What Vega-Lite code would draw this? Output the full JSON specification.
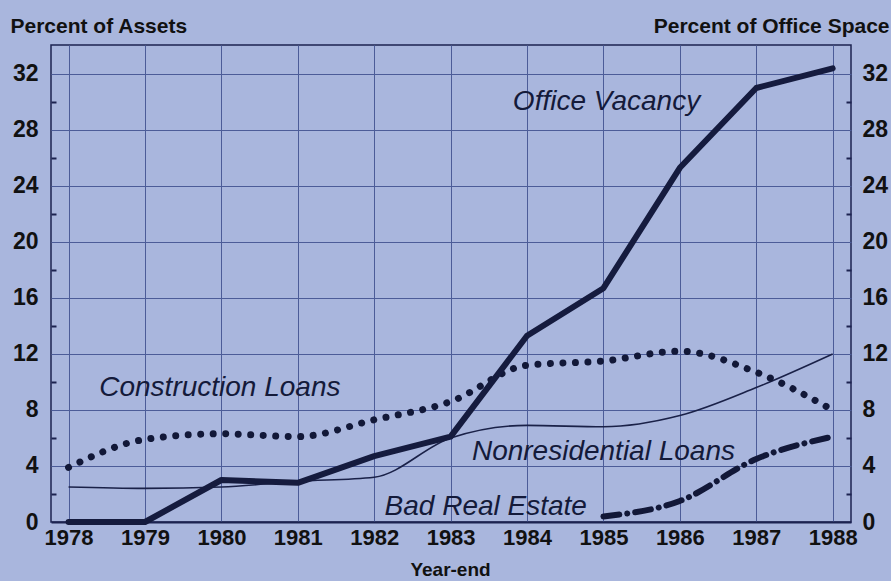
{
  "$schema": "https://vega.github.io/schema/vega-lite/v6.json",
  "width": 800,
  "height": 477,
  "autosize": {"type": "none"},
  "padding": {"left": 51, "top": 45, "right": 40, "bottom": 59},
  "background": "#a9b6dd",
  "config": {
    "view": {"stroke": "#1c2350", "strokeWidth": 1.5, "fill": "#a9b6dd"},
    "font": "Liberation Sans",
    "axis": {
      "labelFont": "Liberation Sans",
      "titleFont": "Liberation Sans",
      "labelColor": "#111111",
      "titleColor": "#111111",
      "domainColor": "#1c2350",
      "tickColor": "#1c2350",
      "gridColor": "#4c5c98",
      "gridWidth": 1
    }
  },
  "datasets": {
    "series": [
      {"year": 1978, "series": "Office Vacancy", "value": 0},
      {"year": 1979, "series": "Office Vacancy", "value": 0},
      {"year": 1980, "series": "Office Vacancy", "value": 3.0},
      {"year": 1981, "series": "Office Vacancy", "value": 2.8},
      {"year": 1982, "series": "Office Vacancy", "value": 4.7},
      {"year": 1983, "series": "Office Vacancy", "value": 6.1},
      {"year": 1984, "series": "Office Vacancy", "value": 13.3},
      {"year": 1985, "series": "Office Vacancy", "value": 16.7},
      {"year": 1986, "series": "Office Vacancy", "value": 25.3},
      {"year": 1987, "series": "Office Vacancy", "value": 31.0},
      {"year": 1988, "series": "Office Vacancy", "value": 32.4},
      {"year": 1978, "series": "Nonresidential Loans", "value": 2.5},
      {"year": 1979, "series": "Nonresidential Loans", "value": 2.4},
      {"year": 1980, "series": "Nonresidential Loans", "value": 2.5},
      {"year": 1981, "series": "Nonresidential Loans", "value": 2.9},
      {"year": 1982, "series": "Nonresidential Loans", "value": 3.2},
      {"year": 1983, "series": "Nonresidential Loans", "value": 6.0},
      {"year": 1984, "series": "Nonresidential Loans", "value": 6.9},
      {"year": 1985, "series": "Nonresidential Loans", "value": 6.8},
      {"year": 1986, "series": "Nonresidential Loans", "value": 7.6},
      {"year": 1987, "series": "Nonresidential Loans", "value": 9.6},
      {"year": 1988, "series": "Nonresidential Loans", "value": 12.0},
      {"year": 1978, "series": "Construction Loans", "value": 3.9},
      {"year": 1979, "series": "Construction Loans", "value": 5.9},
      {"year": 1980, "series": "Construction Loans", "value": 6.3},
      {"year": 1981, "series": "Construction Loans", "value": 6.1},
      {"year": 1982, "series": "Construction Loans", "value": 7.3},
      {"year": 1983, "series": "Construction Loans", "value": 8.6},
      {"year": 1984, "series": "Construction Loans", "value": 11.2},
      {"year": 1985, "series": "Construction Loans", "value": 11.5},
      {"year": 1986, "series": "Construction Loans", "value": 12.2},
      {"year": 1987, "series": "Construction Loans", "value": 10.7},
      {"year": 1988, "series": "Construction Loans", "value": 8.0},
      {"year": 1985, "series": "Bad Real Estate", "value": 0.4},
      {"year": 1986, "series": "Bad Real Estate", "value": 1.5},
      {"year": 1987, "series": "Bad Real Estate", "value": 4.5},
      {"year": 1988, "series": "Bad Real Estate", "value": 6.1}
    ],
    "labels": [
      {"year": 1985.04, "value": 30.0, "label": "Office Vacancy"},
      {"year": 1979.98, "value": 9.6, "label": "Construction Loans"},
      {"year": 1985.0, "value": 5.0, "label": "Nonresidential Loans"},
      {"year": 1983.46, "value": 1.05, "label": "Bad Real Estate"}
    ]
  },
  "data": {"name": "series"},
  "encoding": {
    "x": {
      "field": "year", "type": "quantitative",
      "scale": {"domain": [1977.77, 1988.24], "nice": false, "zero": false},
      "axis": {
        "values": [1978, 1979, 1980, 1981, 1982, 1983, 1984, 1985, 1986, 1987, 1988],
        "format": "d", "labelFontSize": 22, "labelFontWeight": "bold", "labelPadding": 5,
        "tickSize": 0, "domainWidth": 2, "grid": true,
        "title": "Year-end", "titleFontSize": 19, "titleFontWeight": "bold",
        "titleX": 399, "titleY": 53, "titleBaseline": "alphabetic"
      }
    },
    "y": {
      "field": "value", "type": "quantitative",
      "scale": {"domain": [0, 34.07], "nice": false},
      "axis": null
    }
  },
  "layer": [
    {
      "mark": {"type": "line", "color": "#1a2148", "strokeWidth": 1.6, "interpolate": "monotone"},
      "transform": [{"filter": "datum.series === 'Nonresidential Loans'"}],
      "encoding": {
        "y": {
          "field": "value", "type": "quantitative",
          "axis": {
            "orient": "left",
            "values": [0, 2, 4, 6, 8, 10, 12, 14, 16, 18, 20, 22, 24, 26, 28, 30, 32],
            "labelExpr": "datum.value % 4 === 0 ? datum.label : ''",
            "labelFontSize": 23, "labelFontWeight": "bold", "labelPadding": 13,
            "tickSize": {"condition": {"test": "datum.value % 4 === 0", "value": 0}, "value": -5},
            "tickWidth": 2,
            "grid": true,
            "gridOpacity": {"condition": {"test": "datum.value % 4 === 0", "value": 1}, "value": 0},
            "domain": false,
            "title": "Percent of Assets", "titleAngle": 0, "titleFontSize": 21,
            "titleFontWeight": "bold", "titleAlign": "left", "titleBaseline": "alphabetic",
            "titleX": -41, "titleY": -13
          }
        }
      }
    },
    {
      "mark": {"type": "line", "color": "#121838", "strokeWidth": 7, "strokeCap": "round", "strokeDash": [0.01, 12.5], "interpolate": "monotone"},
      "transform": [{"filter": "datum.series === 'Construction Loans'"}]
    },
    {
      "mark": {"type": "line", "color": "#121838", "strokeWidth": 6, "strokeCap": "round", "strokeDash": [16, 8, 0.01, 8], "interpolate": "monotone"},
      "transform": [{"filter": "datum.series === 'Bad Real Estate'"}]
    },
    {
      "mark": {"type": "line", "color": "#151b3e", "strokeWidth": 6, "strokeJoin": "round", "strokeCap": "round"},
      "transform": [{"filter": "datum.series === 'Office Vacancy'"}],
      "encoding": {
        "y": {
          "field": "value", "type": "quantitative",
          "axis": {
            "orient": "right",
            "values": [0, 2, 4, 6, 8, 10, 12, 14, 16, 18, 20, 22, 24, 26, 28, 30, 32],
            "labelExpr": "datum.value % 4 === 0 ? datum.label : ''",
            "labelFontSize": 23, "labelFontWeight": "bold", "labelPadding": 11,
            "tickSize": {"condition": {"test": "datum.value % 4 === 0", "value": 0}, "value": -5},
            "tickWidth": 2,
            "grid": false,
            "domain": false,
            "title": "Percent of Office Space", "titleAngle": 0, "titleFontSize": 21,
            "titleFontWeight": "bold", "titleAlign": "right", "titleBaseline": "alphabetic",
            "titleX": 38, "titleY": -13
          }
        }
      }
    },
    {
      "data": {"name": "labels"},
      "mark": {"type": "text", "font": "Liberation Sans", "fontStyle": "italic", "fontSize": 28, "color": "#141a3a", "align": "center", "baseline": "middle"},
      "encoding": {
        "text": {"field": "label"}
      }
    }
  ],
  "resolve": {"axis": {"y": "independent"}}
}
